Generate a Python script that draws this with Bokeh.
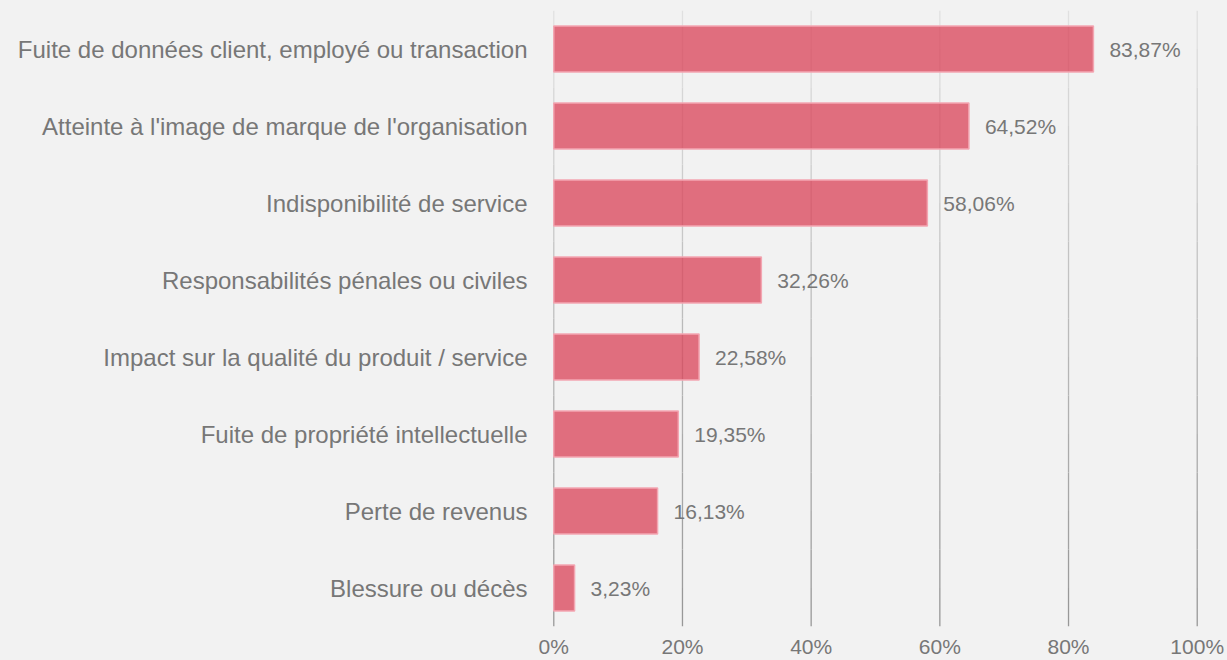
from bokeh.plotting import figure
from bokeh.models import FactorRange, Range1d, FixedTicker, PrintfTickFormatter, ColumnDataSource
from bokeh.core.properties import value
from bokeh.embed import file_html
from bokeh.resources import INLINE

categories = [
    "Fuite de données client, employé ou transaction",
    "Atteinte à l'image de marque de l'organisation",
    "Indisponibilité de service",
    "Responsabilités pénales ou civiles",
    "Impact sur la qualité du produit / service",
    "Fuite de propriété intellectuelle",
    "Perte de revenus",
    "Blessure ou décès",
]
values = [83.87, 64.52, 58.06, 32.26, 22.58, 19.35, 16.13, 3.23]
value_labels = ["83,87%", "64,52%", "58,06%", "32,26%", "22,58%", "19,35%", "16,13%", "3,23%"]
x_ticks = [0, 20, 40, 60, 80, 100]

FONT = "Liberation Sans"
TEXT = "#777777"
BG = "#f2f2f2"

p = figure(
    width=1227, height=660,
    y_range=FactorRange(factors=list(reversed(categories)), range_padding=0),
    x_range=Range1d(-0.2, 100.2),
    output_backend="svg", toolbar_location=None,
    min_border_left=552, min_border_right=29, min_border_top=10, min_border_bottom=34,
)
p.background_fill_color = BG
p.border_fill_color = BG
p.outline_line_color = None
p.grid.grid_line_color = None

# vertical gridlines with a light-to-dark gradient (top to bottom)
n = len(categories)
gx0, gy0, gy1, gc = [], [], [], []
for t in x_ticks:
    for i, c in enumerate(categories):
        for h, (a, b) in enumerate([(0.5, 0.0), (0.0, -0.5)]):
            frac = (i * 2 + h + 0.5) / (2 * n)
            g = int(round(226 - 76 * frac))
            gx0.append(t)
            gy0.append([c, a])
            gy1.append([c, b])
            gc.append("#%02x%02x%02x" % (g, g, g))
p.segment(x0=gx0, x1=gx0, y0=gy0, y1=gy1, line_color=gc, line_width=1.3)

src = ColumnDataSource(dict(cat=categories, val=values, lab=value_labels))
p.hbar(y="cat", right="val", left=0, height=0.6, source=src,
       fill_color="#da4157", fill_alpha=0.75,
       line_color="#f3a6b2", line_width=1.5)
p.text(x="val", y="cat", text="lab", source=src, x_offset=16,
       text_baseline="middle", text_align="left",
       text_font=value(FONT), text_font_size="21px", text_color=TEXT)

xa = p.xaxis[0]
xa.ticker = FixedTicker(ticks=x_ticks)
xa.formatter = PrintfTickFormatter(format="%d%%")
xa.axis_line_color = None
xa.major_tick_line_color = None
xa.minor_tick_line_color = None
xa.major_tick_in = 0
xa.major_tick_out = 0
xa.major_label_standoff = 8
xa.major_label_text_font = FONT
xa.major_label_text_font_size = "21px"
xa.major_label_text_color = TEXT

ya = p.yaxis[0]
ya.axis_line_color = None
ya.major_tick_line_color = None
ya.minor_tick_line_color = None
ya.major_tick_in = 0
ya.major_tick_out = 0
ya.major_label_standoff = 25
ya.major_label_text_font = FONT
ya.major_label_text_font_size = "24px"
ya.major_label_text_color = TEXT

html = file_html(p, INLINE)
html = html.replace("<head>", "<head><style>body{background:#f2f2f2;}</style>", 1)
open("out.html", "w").write(html)
